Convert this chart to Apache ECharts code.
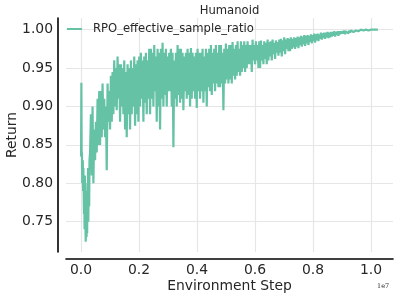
<!DOCTYPE html>
<html><head><meta charset="utf-8">
<script src="https://cdn.jsdelivr.net/npm/echarts@6/dist/echarts.min.js"></script>
<style>html,body{margin:0;padding:0;background:#fff}#c{width:399px;height:300px}</style>
</head><body><div id="c"></div>
<script>
const chartTitle = "Humanoid";
const seriesName = "RPO_effective_sample_ratio";
const xTitle = "Environment Step";
const yTitle = "Return";
const xScaleNote = "1e7";
// environment steps, in units of 1e7
const stepsE7 = [
0.000,0.001,0.002,0.003,0.004,0.006,0.007,0.008,0.010,0.011,0.012,0.013,0.014,0.016,0.017,0.018,0.019,0.020,0.021,0.022,0.023,0.024,0.025,0.026,0.027,0.028,0.029,
0.0310,0.0339,0.0368,0.0396,0.0425,0.0454,0.0483,0.0511,0.0540,0.0569,0.0598,0.0626,
0.0655,0.0684,0.0713,0.0741,0.0770,0.0799,0.0828,0.0856,0.0885,0.0914,0.0943,0.0971,
0.1000,0.1029,0.1058,0.1086,0.1115,0.1144,0.1173,0.1201,0.1230,0.1259,0.1288,0.1316,
0.1345,0.1374,0.1403,0.1431,0.1460,0.1489,0.1518,0.1546,0.1575,0.1604,0.1633,0.1661,
0.1690,0.1719,0.1748,0.1776,0.1805,0.1834,0.1863,0.1891,0.1920,0.1949,0.1978,0.2006,
0.2035,0.2064,0.2093,0.2121,0.2150,0.2179,0.2208,0.2236,0.2265,0.2294,0.2323,0.2351,
0.2380,0.2409,0.2438,0.2466,0.2495,0.2524,0.2553,0.2581,0.2610,0.2639,0.2668,0.2696,
0.2725,0.2754,0.2783,0.2811,0.2840,0.2869,0.2898,0.2926,0.2955,0.2984,0.3013,0.3041,
0.3070,0.3099,0.3128,0.3156,0.3185,0.3214,0.3243,0.3271,0.3300,0.3329,0.3358,0.3386,
0.3415,0.3444,0.3473,0.3501,0.3530,0.3559,0.3588,0.3616,0.3645,0.3674,0.3703,0.3731,
0.3760,0.3789,0.3818,0.3846,0.3875,0.3904,0.3933,0.3961,0.3990,0.4019,0.4048,0.4076,
0.4105,0.4134,0.4163,0.4191,0.4220,0.4249,0.4278,0.4306,0.4335,0.4364,0.4393,0.4421,
0.4450,0.4479,0.4508,0.4536,0.4565,0.4594,0.4623,0.4651,0.4680,0.4709,0.4738,0.4766,
0.4795,0.4824,0.4853,0.4881,0.4910,0.4939,0.4968,0.4996,0.5025,0.5054,0.5083,0.5111,
0.5140,0.5169,0.5198,0.5226,0.5255,0.5284,0.5313,0.5341,0.5370,0.5399,0.5428,0.5456,
0.5485,0.5514,0.5543,0.5571,0.5600,0.5629,0.5658,0.5686,0.5715,0.5744,0.5773,0.5801,
0.5830,0.5859,0.5888,0.5916,0.5945,0.5974,0.6003,0.6031,0.6060,0.6089,0.6118,0.6146,
0.6175,0.6204,0.6233,0.6261,0.6290,0.6319,0.6348,0.6376,0.6405,0.6434,0.6463,0.6491,
0.6520,0.6549,0.6578,0.6606,0.6635,0.6664,0.6693,0.6721,0.6750,0.6779,0.6808,0.6836,
0.6865,0.6894,0.6923,0.6951,0.6980,0.7009,0.7038,0.7066,0.7095,0.7124,0.7153,0.7181,
0.7210,0.7239,0.7268,0.7296,0.7325,0.7354,0.7383,0.7411,0.7440,0.7469,0.7498,0.7526,
0.7555,0.7584,0.7613,0.7641,0.7670,0.7699,0.7728,0.7756,0.7785,0.7814,0.7843,0.7871,
0.7900,0.7929,0.7958,0.7986,0.8015,0.8044,0.8073,0.8101,0.8130,0.8159,0.8188,0.8216,
0.8245,0.8274,0.8303,0.8331,0.8360,0.8389,0.8418,0.8446,0.8475,0.8504,0.8533,0.8561,
0.8590,0.8619,0.8648,0.8676,0.8705,0.8734,0.8763,0.8791,0.8820,0.8849,0.8878,0.8906,
0.8935,0.8964,0.8993,0.9021,0.9050,0.9079,0.9108,0.9136,0.9165,0.9194,0.9223,0.9251,
0.9280,0.9309,0.9338,0.9366,0.9395,0.9424,0.9453,0.9481,0.9510,0.9539,0.9568,0.9596,
0.9625,0.9654,0.9683,0.9711,0.9740,0.9769,0.9798,0.9826,0.9855,0.9884,0.9913,0.9941,
0.9970,1.0005,1.0040,1.0075,1.0110,1.0150,1.0200,1.0240
];
const returns = [
0.835,0.931,0.836,0.84,0.80,0.83,0.79,0.82,0.76,0.80,0.74,0.81,0.77,0.724,0.76,0.78,0.73,0.79,0.735,0.80,0.76,0.82,0.75,0.80,0.82,0.77,0.83,
0.84,0.89,0.81,0.90,0.80,0.87,0.83,0.88,0.84,0.91,0.85,0.92,
0.85,0.92,0.86,0.93,0.87,0.91,0.86,0.90,0.817,0.93,0.88,0.92,
0.87,0.94,0.88,0.945,0.89,0.96,0.90,0.95,0.895,0.965,0.91,0.955,
0.88,0.955,0.90,0.95,0.89,0.96,0.87,0.945,0.86,0.955,0.89,0.95,
0.87,0.96,0.89,0.95,0.90,0.965,0.875,0.955,0.89,0.96,0.88,0.965,
0.90,0.97,0.91,0.96,0.88,0.965,0.905,0.97,0.89,0.96,0.91,0.975,
0.89,0.975,0.91,0.97,0.90,0.98,0.92,0.965,0.88,0.975,0.90,0.97,
0.87,0.975,0.91,0.983,0.90,0.97,0.915,0.975,0.90,0.965,0.92,0.97,
0.92,0.975,0.90,0.97,0.847,0.96,0.91,0.97,0.90,0.98,0.915,0.975,
0.905,0.975,0.91,0.97,0.895,0.965,0.92,0.97,0.91,0.975,0.915,0.97,
0.90,0.976,0.91,0.97,0.92,0.965,0.91,0.97,0.898,0.975,0.92,0.97,
0.91,0.97,0.92,0.975,0.905,0.965,0.92,0.975,0.90,0.97,0.925,0.975,
0.92,0.98,0.915,0.97,0.93,0.975,0.92,0.98,0.93,0.97,0.925,0.98,
0.925,0.98,0.93,0.97,0.895,0.975,0.93,0.982,0.935,0.975,0.93,0.98,
0.935,0.98,0.93,0.984,0.94,0.975,0.935,0.98,0.94,0.985,0.945,0.975,
0.94,0.985,0.945,0.98,0.95,0.985,0.945,0.98,0.95,0.985,0.955,0.98,
0.955,0.98,0.945,0.987,0.96,0.98,0.955,0.985,0.96,0.98,0.95,0.985,
0.95,0.986,0.96,0.98,0.955,0.985,0.962,0.983,0.955,0.987,0.96,0.984,
0.965,0.985,0.96,0.987,0.968,0.983,0.962,0.986,0.97,0.984,0.966,0.987,
0.97,0.988,0.965,0.986,0.972,0.99,0.968,0.987,0.975,0.989,0.972,0.988,
0.972,0.99,0.975,0.988,0.977,0.99,0.975,0.989,0.978,0.991,0.976,0.99,
0.98,0.992,0.978,0.991,0.981,0.993,0.979,0.992,0.982,0.993,0.98,0.992,
0.984,0.994,0.982,0.993,0.985,0.995,0.983,0.994,0.986,0.995,0.985,0.994,
0.988,0.996,0.987,0.995,0.989,0.996,0.988,0.996,0.99,0.997,0.989,0.996,
0.99,0.997,0.991,0.997,0.992,0.998,0.991,0.997,0.993,0.998,0.992,0.998,
0.994,0.998,0.995,0.998,0.995,0.999,0.994,0.998,0.996,0.999,0.995,0.999,
0.996,0.999,0.997,0.999,0.997,0.999,0.997,0.999,0.998,1.0,0.998,0.999,
0.998,1.0,0.998,0.999,0.999,1.0,0.998,1.0,0.999,1.0,0.999,1.0,
0.999,1.0,0.9995,1.0,0.9995,1.0,0.9998,1.0
];

const FONT = "DejaVu Sans";
const TXT = "#262626";
const chart = echarts.init(document.getElementById('c'), null, {renderer: 'canvas'});
chart.setOption({
  animation: false,
  backgroundColor: '#fff',
  title: {
    text: chartTitle, left: 229.5, top: 5, padding: 0, textAlign: 'center',
    textStyle: {fontFamily: FONT, fontSize: 11.6, fontWeight: 'normal', color: TXT}
  },
  legend: {
    left: 67, top: 23, padding: 0,
    icon: 'rect', itemWidth: 15, itemHeight: 2,
    textStyle: {fontFamily: FONT, fontSize: 11.6, color: TXT, padding: [0, 0, 0, 6]},
    data: [seriesName]
  },
  grid: {left: 66, right: 6, top: 18, bottom: 48, outerBoundsMode: 'none', containLabel: false},
  xAxis: {
    type: 'value', min: -0.052, max: 1.076, offset: 7,
    name: xTitle, nameLocation: 'middle', nameGap: 20, nameMoveOverlap: false,
    nameTextStyle: {fontFamily: FONT, fontSize: 13.9, color: TXT},
    axisLine: {show: true, onZero: false, lineStyle: {color: '#000', width: 1.6}},
    axisTick: {show: false},
    axisLabel: {fontFamily: FONT, fontSize: 13.9, color: TXT, margin: 4,
      showMinLabel: false, showMaxLabel: false,
      formatter: v => v.toFixed(1)},
    splitLine: {show: true, showMinLine: false, showMaxLine: false, lineStyle: {color: '#e6e6e6', width: 1.2}}
  },
  yAxis: {
    type: 'value', min: 0.7105, max: 1.0152, offset: 8,
    name: yTitle, nameLocation: 'middle', nameGap: 38.5, nameMoveOverlap: false,
    nameTextStyle: {fontFamily: FONT, fontSize: 13.9, color: TXT},
    axisLine: {show: true, onZero: false, lineStyle: {color: '#000', width: 1.6}},
    axisTick: {show: false},
    axisLabel: {fontFamily: FONT, fontSize: 13.9, color: TXT, margin: 5,
      showMinLabel: false, showMaxLabel: false,
      formatter: v => v.toFixed(2)},
    splitLine: {show: true, showMinLine: false, showMaxLine: false, lineStyle: {color: '#e6e6e6', width: 1.2}}
  },
  graphic: [{
    type: 'text', left: 377, top: 283,
    style: {text: xScaleNote, font: '6.5px "DejaVu Serif"', fill: TXT}
  }],
  series: [{
    name: seriesName, type: 'line', showSymbol: false, symbol: 'none',
    color: '#66c2a5',
    lineStyle: {width: 2.2, color: '#66c2a5'},
    data: stepsE7.map((s, i) => [s, returns[i]])
  }]
});
</script></body></html>
